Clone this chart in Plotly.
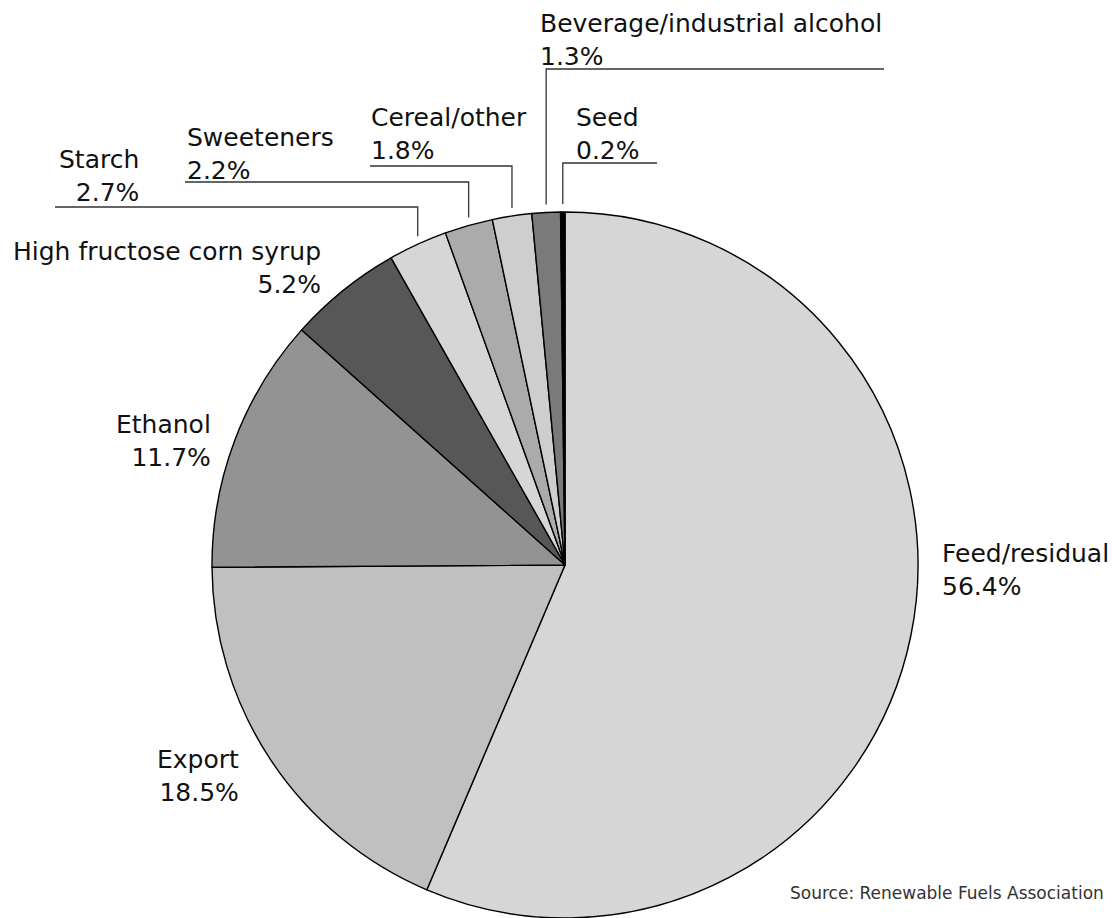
import math
import plotly.graph_objects as go

# Corn usage shares (%)
categories = ["Feed/residual", "Export", "Ethanol", "High fructose corn syrup",
              "Starch", "Sweeteners", "Cereal/other",
              "Beverage/industrial alcohol", "Seed"]
shares = [56.4, 18.5, 11.7, 5.2, 2.7, 2.2, 1.8, 1.3, 0.2]
slice_colors = ["#d6d6d6", "#c0c0c0", "#939393", "#575757", "#d6d6d6",
                "#ababab", "#cecece", "#7a7a7a", "#000000"]
source_note = "Source: Renewable Fuels Association"

W, H = 1112, 918
R = 353                      # pie radius in px
CX, CY = 565, H - R          # pie centre in px (from top-left)

FONT = "DejaVu Sans"
FS = 25


def px(x):
    return x / W


def py(y):
    return 1 - y / H


fig = go.Figure(go.Pie(
    labels=categories,
    values=shares,
    sort=False,
    direction="clockwise",
    rotation=0,
    textinfo="none",
    hoverinfo="label+percent",
    marker=dict(colors=slice_colors, line=dict(color="#000000", width=1.4)),
    domain=dict(x=[(CX - R) / W, (CX + R) / W], y=[0, 2 * R / H]),
    showlegend=False,
))

# label layout: (x px, y px centre, anchor)
label_pos = {
    "Feed/residual": (940, 570, "left"),
    "Export": (241, 776, "right"),
    "Ethanol": (213, 441, "right"),
    "High fructose corn syrup": (323, 268, "right"),
    "Starch": (141, 176, "right"),
    "Sweeteners": (185, 154, "left"),
    "Cereal/other": (369, 134, "left"),
    "Beverage/industrial alcohol": (538, 40, "left"),
    "Seed": (574, 134, "left"),
}

annotations = []
for name, val in zip(categories, shares):
    x, y, anchor = label_pos[name]
    annotations.append(dict(
        x=px(x), y=py(y), xref="paper", yref="paper",
        xanchor=anchor, yanchor="middle", align=anchor,
        text=f"{name}<br>{val:.1f}%", showarrow=False,
        font=dict(family=FONT, size=FS, color="#111111"),
    ))

annotations.append(dict(
    x=px(1106), y=py(893), xref="paper", yref="paper",
    xanchor="right", yanchor="middle", text=source_note, showarrow=False,
    font=dict(family=FONT, size=17, color="#333333"),
))

# leader lines for the thin top slices: horizontal level and far end
leaders = {
    "Starch": (207, 55),
    "Sweeteners": (182, 185),
    "Cereal/other": (166, 370),
    "Beverage/industrial alcohol": (69, 884),
    "Seed": (163, 657),
}

shapes = []
cum = 0.0
total = sum(shares)
for name, val in zip(categories, shares):
    mid = 2 * math.pi * (cum + val / 2) / total
    cum += val
    if name not in leaders:
        continue
    level, far_x = leaders[name]
    ax = CX + R * math.sin(mid)
    edge_y = CY - math.sqrt(max(R * R - (ax - CX) ** 2, 0)) - 8
    path = (f"M {px(far_x)},{py(level)} L {px(ax)},{py(level)} "
            f"L {px(ax)},{py(edge_y)}")
    shapes.append(dict(type="path", path=path, xref="paper", yref="paper",
                       line=dict(color="#333333", width=1.3)))

fig.update_layout(
    width=W, height=H,
    margin=dict(l=0, r=0, t=0, b=0),
    paper_bgcolor="white", plot_bgcolor="white",
    annotations=annotations, shapes=shapes,
)

fig.write_html("out.html")
